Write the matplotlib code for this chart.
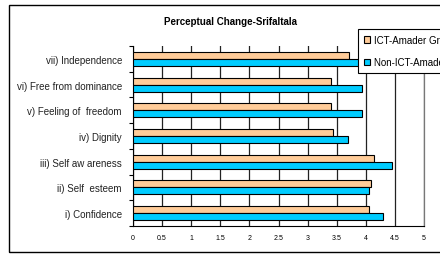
import matplotlib
matplotlib.use("Agg")
import matplotlib.pyplot as plt
from matplotlib.patches import Rectangle
import numpy as np

plt.rcParams['font.family'] = ['Liberation Sans', 'DejaVu Sans']

categories = ["i) Confidence", "ii) Self  esteem", "iii) Self aw areness", "iv) Dignity",
              "v) Feeling of  freedom", "vi) Free from dominance", "vii) Independence"]
ict = [4.05, 4.09, 4.14, 3.44, 3.40, 3.40, 3.71]
non_ict = [4.29, 4.05, 4.45, 3.70, 3.94, 3.94, 4.00]
series_names = ["ICT-Amader Gram", "Non-ICT-Amader Gram"]
xticks = [0, 0.5, 1, 1.5, 2, 2.5, 3, 3.5, 4, 4.5, 5]
xticklabels = ["0", "0.5", "1", "1.5", "2", "2.5", "3", "3.5", "4", "4.5", "5"]
title = "Perceptual Change-Srifaltala"

W, H = 440, 255
fig = plt.figure(figsize=(W / 100, H / 100), dpi=100)
fig.patch.set_facecolor("white")

# outer chart border
fig.patches.append(Rectangle((9 / W, 1 - 253 / H), (460 - 9) / W, (253 - 6) / H,
                             transform=fig.transFigure, fill=False, edgecolor="black",
                             linewidth=1.0, zorder=0))

ax = fig.add_axes([133 / W, 1 - 227 / H, (424 - 133) / W, (227 - 47) / H])
ax.set_facecolor("white")

y = np.arange(len(categories))
h = 0.27
b1 = ax.barh(y + h / 2, ict, height=h, color="#FFCC99", edgecolor="black", linewidth=0.8, zorder=3)
b2 = ax.barh(y - h / 2, non_ict, height=h, color="#00CCFF", edgecolor="black", linewidth=0.8, zorder=3)

ax.set_xlim(0, 5)
ax.set_ylim(-0.5, len(categories) - 0.5)
ax.set_xticks(xticks)
ax.set_xticklabels(xticklabels, fontsize=5)
ax.xaxis.grid(True, color="#222222", linewidth=0.9, zorder=1)
ax.tick_params(axis="x", length=0, pad=6)

ax.set_yticks(y)
ax.set_yticklabels(categories, fontsize=7, color="#222222")
ax.tick_params(axis="y", length=0, pad=8)
ax.set_yticks(np.arange(-0.5, len(categories), 1), minor=True)
ax.tick_params(axis="y", which="minor", length=3, width=0.8, direction="out")

ax.spines["top"].set_visible(False)
ax.spines["right"].set_color("#777777")
ax.spines["right"].set_linewidth(0.9)
ax.spines["left"].set_linewidth(0.8)
ax.spines["bottom"].set_linewidth(0.8)

fig.text(230 / W, 1 - 22 / H, title, ha="center", va="center", fontsize=7, fontweight="bold")

leg = fig.legend([b1, b2], series_names, loc="upper left",
                 bbox_to_anchor=(358 / W, 1 - 30 / H), fontsize=7,
                 frameon=True, fancybox=False, edgecolor="black", framealpha=1,
                 handlelength=0.65, handleheight=0.65, handletextpad=0.35,
                 labelspacing=1.3, borderpad=0.6, borderaxespad=0)
leg.get_frame().set_linewidth(0.8)

fig.savefig("out.png", dpi=100, facecolor="white")
